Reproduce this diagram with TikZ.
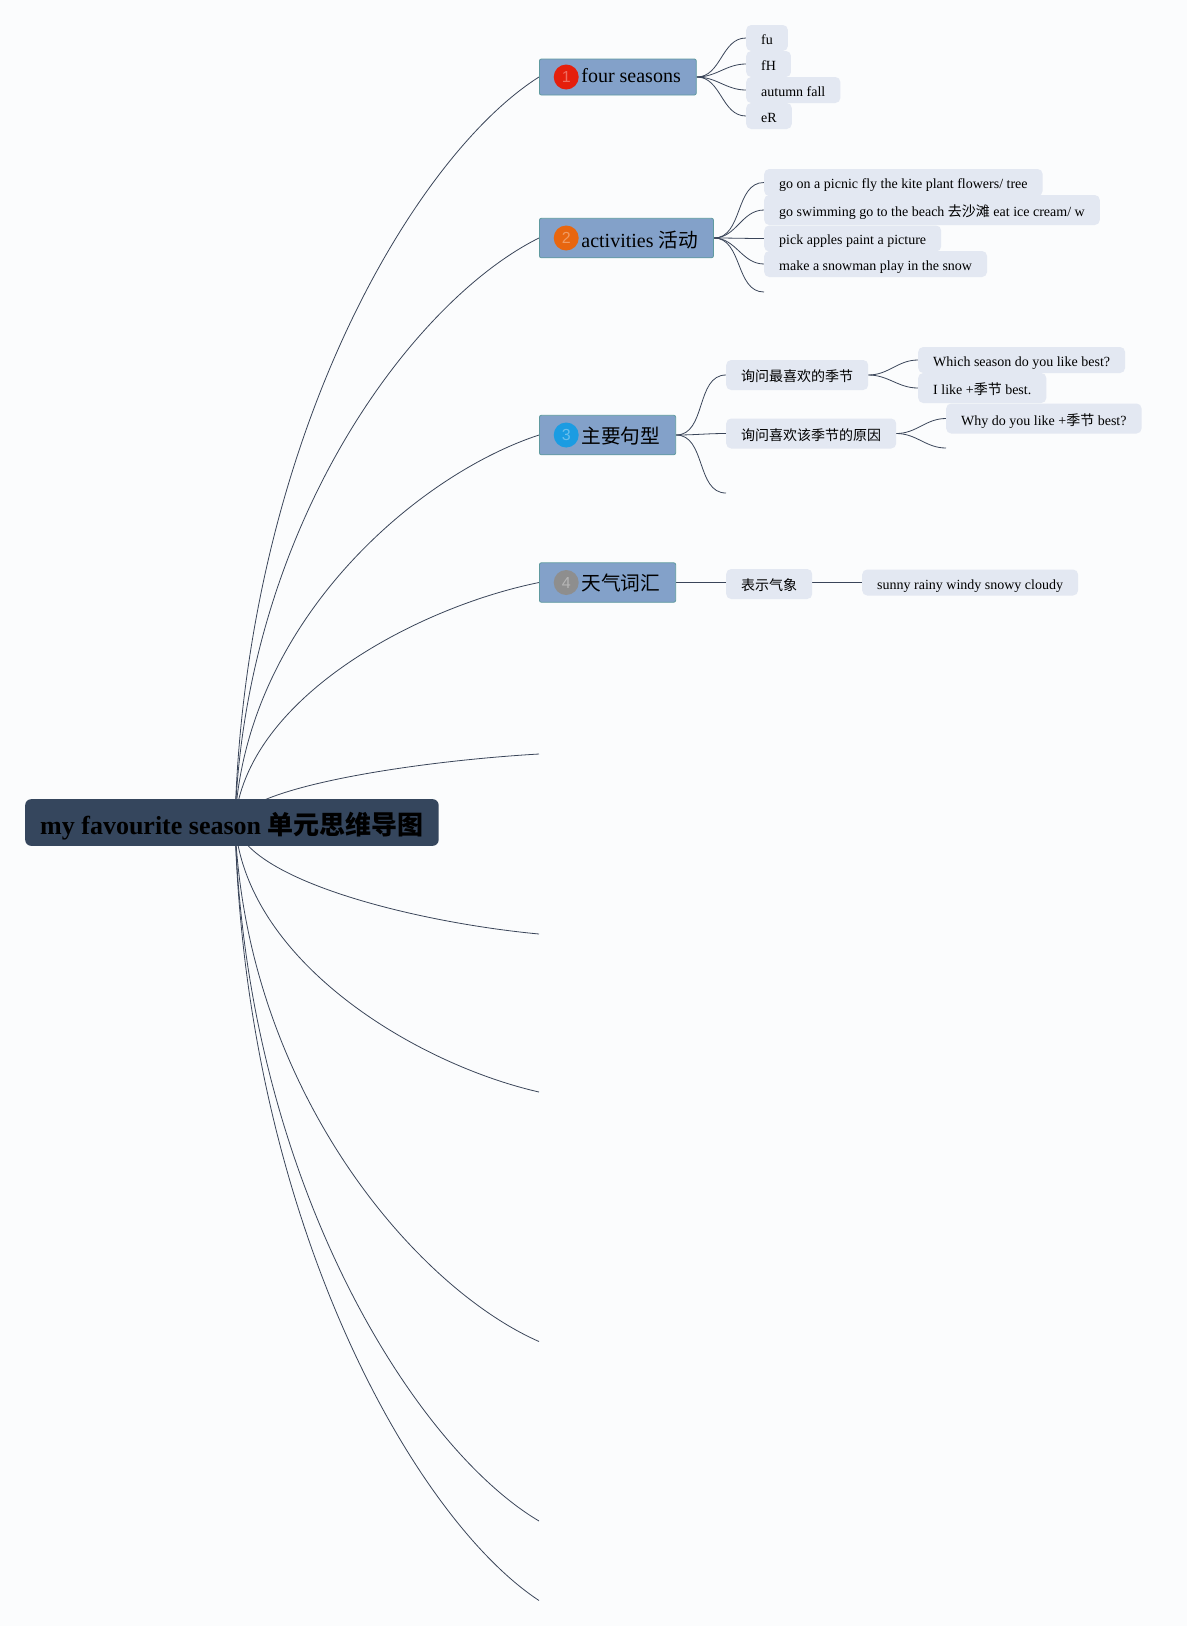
\documentclass[tikz,border=0pt]{standalone}
\usepackage{fontspec}
\setmainfont{Liberation Serif}
\newfontfamily\cjk{Noto Sans CJK SC}
\newfontfamily\cjkmid[Scale=0.985]{Noto Sans CJK SC}
\newfontfamily\digitfont{Liberation Sans}
\usetikzlibrary{positioning,calc,backgrounds}
\definecolor{pagebg}{HTML}{FBFCFD}
\definecolor{rootfill}{HTML}{35465D}
\definecolor{topicfill}{HTML}{83A1C9}
\definecolor{topicline}{HTML}{5F9A9F}
\definecolor{leaffill}{HTML}{E3E8F2}
\definecolor{linkcolor}{HTML}{3A4559}
\definecolor{redbadge}{HTML}{E51F0C}
\definecolor{orangebadge}{HTML}{E8660F}
\definecolor{bluebadge}{HTML}{1B9CE2}
\definecolor{greybadge}{HTML}{8E8E8E}
\begin{document}
\begin{tikzpicture}[
    x=1pt, y=-1pt,
    rootnode/.style={anchor=west, fill=rootfill, rounded corners=6pt, inner xsep=15pt, inner ysep=0pt,
      minimum height=46.7pt, text height=23pt, text depth=0pt, text=black,
      font=\fontsize{26}{30}\selectfont\bfseries},
    topic/.style={anchor=west, fill=topicfill, draw=topicline, line width=.8pt, rounded corners=2pt,
      inner xsep=15.5pt, inner ysep=0pt, minimum height=39.5pt, text height=18pt, text depth=0pt,
      font=\fontsize{20}{24}\selectfont},
    badge/.style={circle, inner sep=0pt, minimum size=25pt, text=white, text opacity=.35,
      font=\fontsize{16}{18}\selectfont\digitfont},
    leaf/.style={anchor=west, fill=leaffill, rounded corners=5pt, inner xsep=15pt, inner ysep=0pt,
      minimum height=26pt, text height=12.6pt, text depth=0pt, font=\fontsize{14}{16}\selectfont},
    leafcn/.style={leaf, minimum height=30pt, text height=13pt},
    twig/.style={draw=linkcolor, line width=.8pt, out=0, in=180},
    limb/.style={draw=linkcolor, line width=.8pt}
  ]

  \node[rootnode] (root) at (25,822.5) {my favourite season {\cjk 单元思维导图}};

  % first level
  \node[topic, minimum height=36pt, text height=11.4pt] (a1) at (539,77) {\hspace*{26.5pt}four seasons};
  \node[topic] (a2) at (539,238) {\hspace*{26.5pt}activities {\cjkmid 活动}};
  \node[topic, text height=16.5pt] (a3) at (539,435) {\hspace*{26.5pt}{\cjkmid 主要句型}};
  \node[topic, text height=16.5pt] (a4) at (539,582.5) {\hspace*{26.5pt}{\cjkmid 天气词汇}};
  \node[badge, fill=redbadge, right=14.5pt of a1.west] (n1) {1};
  \node[badge, fill=orangebadge, right=14.5pt of a2.west] (n2) {2};
  \node[badge, fill=bluebadge, right=14.5pt of a3.west] (n3) {3};
  \node[badge, fill=greybadge, right=14.5pt of a4.west] (n4) {4};

  % empty branches
  \coordinate (e5) at (539,754);
  \coordinate (e6) at (539,934);
  \coordinate (e7) at (539,1092);
  \coordinate (e8) at (539,1341.5);
  \coordinate (e9) at (539,1521);
  \coordinate (e10) at (539,1600.5);

  % four seasons
  \node[leaf] (b1) at (746,38) {fu};
  \node[leaf] (b2) at (746,64) {fH};
  \node[leaf] (b3) at (746,90) {autumn fall};
  \node[leaf] (b4) at (746,116) {eR};

  % activities
  \node[leaf, minimum height=27pt] (c1) at (764,182.5) {go on a picnic fly the kite plant flowers/ tree};
  \node[leafcn] (c2) at (764,210) {go swimming go to the beach {\cjk 去沙滩} eat ice cream/ w};
  \node[leaf] (c3) at (764,238.5) {pick apples paint a picture};
  \node[leaf] (c4) at (764,264) {make a snowman play in the snow};
  \coordinate (c5) at (764,292);

  % sentences
  \node[leafcn] (d1) at (726,375) {{\cjk 询问最喜欢的季节}};
  \node[leafcn] (d2) at (726,433.5) {{\cjk 询问喜欢该季节的原因}};
  \coordinate (d3) at (726,493);
  \node[leaf] (d4) at (918,360) {Which season do you like best?};
  \node[leafcn] (d5) at (918,388) {I like +{\cjk 季节} best.};
  \node[leafcn] (d6) at (946,418.5) {Why do you like +{\cjk 季节} best?};
  \coordinate (d7) at (946,448);

  % weather
  \node[leafcn] (g1) at (726,584) {{\cjk 表示气象}};
  \node[leaf, text height=14pt] (g2) at (862,582.5) {sunny rainy windy snowy cloudy};

  \begin{scope}[on background layer]
    \fill[pagebg] (0,0) rectangle (1187,1626);
    \foreach \target in {a1.west,a2.west,a3.west,a4.west,e5,e6,e7,e8,e9,e10}
      \draw[limb] let \p1=(root.center), \p2=(\target) in (\x1+3pt,\y1)
        .. controls ({\x1+3pt+.033*(\x2-\x1-3pt)},{\y1+.513*(\y2-\y1)})
        and ({\x1+3pt+.592*(\x2-\x1-3pt)},{\y1+.895*(\y2-\y1)}) .. (\p2);
    \foreach \target in {b1,b2,b3,b4}
      \draw[twig] (a1.east) to (\target.west);
    \foreach \target in {c1.west,c2.west,c3.west,c4.west,c5}
      \draw[twig] (a2.east) to (\target);
    \foreach \target in {d1.west,d2.west,d3}
      \draw[twig] (a3.east) to (\target);
    \draw[twig] (d1.east) to (d4.west);
    \draw[twig] (d1.east) to (d5.west);
    \draw[twig] (d2.east) to (d6.west);
    \draw[twig] (d2.east) to (d7);
    \draw[twig] (a4.east) to (g1.west |- a4.east);
    \draw[twig] (g1.east |- g2.west) to (g2.west);
  \end{scope}

  \useasboundingbox (0,0) rectangle (1187,1626);
\end{tikzpicture}
\end{document}
